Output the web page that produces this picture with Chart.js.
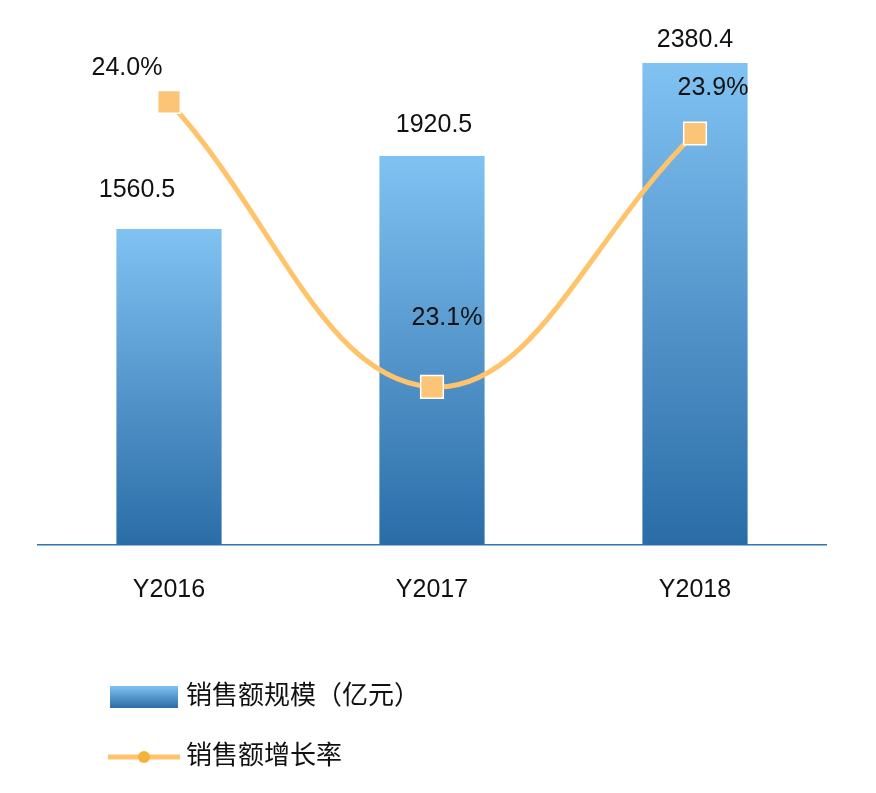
<!DOCTYPE html><html><head><meta charset="utf-8">
<script src="https://cdn.jsdelivr.net/npm/chart.js@4/dist/chart.umd.min.js"></script>
<style>html,body{margin:0;background:#fff}#w{width:876px;height:793px}</style></head><body>
<div id="w"><canvas id="c"></canvas></div>
<script>
const categories=['Y2016','Y2017','Y2018'];
const salesValues=[1560.5,1920.5,2380.4];
const growthValues=[24.0,23.1,23.9];
const barLabels=['1560.5','1920.5','2380.4'];
const lineLabels=['24.0%','23.1%','23.9%'];
const FONT='"Liberation Sans", Arial, "Noto Sans CJK SC", sans-serif';
const barLabelPos=[[137,190],[434,125],[695,40]];
const lineLabelPos=[[127,68],[447,318],[713,88]];
function grad(ctx,top,bot){const g=ctx.createLinearGradient(0,top,0,bot);g.addColorStop(0,'#80c2f2');g.addColorStop(1,'#2a6ca6');return g;}
const labelsPlugin={id:'lbl',afterDatasetsDraw(ch){const c=ch.ctx;c.save();c.font='25px '+FONT;c.fillStyle='#111';c.textAlign='center';c.textBaseline='middle';
barLabels.forEach((t,i)=>c.fillText(t,barLabelPos[i][0],barLabelPos[i][1]));
lineLabels.forEach((t,i)=>c.fillText(t,lineLabelPos[i][0],lineLabelPos[i][1]));
c.fillStyle=grad(c,686,708);c.fillRect(110,686,68,22);
c.strokeStyle='#ffc46b';c.lineWidth=5;c.beginPath();c.moveTo(108,757);c.lineTo(180,757);c.stroke();
c.fillStyle='#f7b23b';c.beginPath();c.arc(144,757,6,0,Math.PI*2);c.fill();
c.fillStyle='#111';c.textAlign='left';c.font='26px '+FONT;
c.fillText('销售额规模（亿元）',186,697);c.fillText('销售额增长率',186,757);c.restore();}};
new Chart(document.getElementById('c'),{
data:{labels:categories,datasets:[
{type:'line',data:growthValues,yAxisID:'y2',borderColor:'#ffc46b',borderWidth:5,tension:0.4,
 pointStyle:'rect',pointRadius:16,pointBackgroundColor:'#fbc476',pointBorderColor:'#fff',pointBorderWidth:1.5,order:0},
{type:'bar',data:salesValues,yAxisID:'y',categoryPercentage:1,barPercentage:0.4,order:1,
 backgroundColor:(ctx)=>{const ch=ctx.chart;const a=ch.chartArea;if(!a||ctx.parsed==null)return '#5fa0d8';
  const top=ch.scales.y.getPixelForValue(ctx.parsed.y);return grad(ch.ctx,top,a.bottom);}}
]},
options:{responsive:true,maintainAspectRatio:false,animation:false,
layout:{padding:{left:37.5,right:49.5,top:18.5,bottom:0}},
plugins:{legend:{display:false},tooltip:{enabled:false}},
scales:{
x:{offset:true,grid:{display:false},border:{color:'#2e75b6',width:1.5},
 ticks:{color:'#111',font:{size:25,family:FONT},padding:22},
 afterFit(s){s.height=248;}},
y:{display:false,min:0,max:2600},
y2:{display:false,min:22.601,max:24.263}
}},plugins:[labelsPlugin]});
</script></body></html>
